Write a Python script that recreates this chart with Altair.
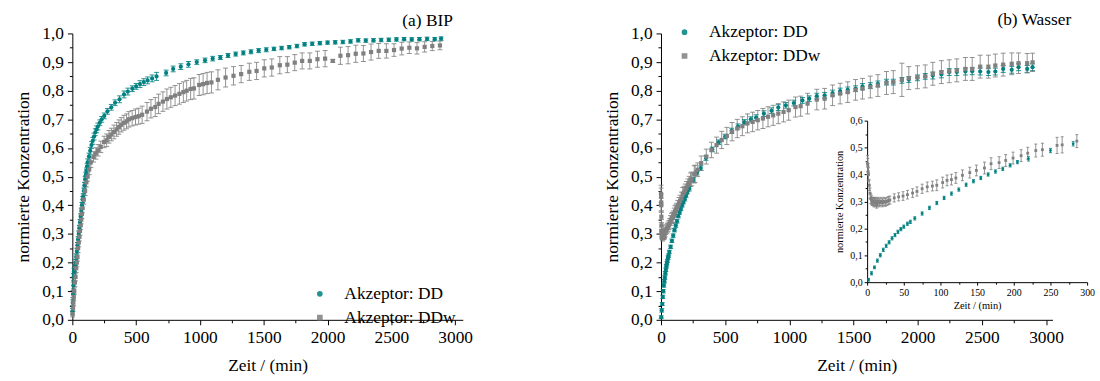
import altair as alt
import pandas as pd

FONT = "Liberation Serif"
FS = 17.5
TEAL = "#008080"
GRAY = "#808080"
LBL_DD = "Akzeptor: DD"
LBL_DDW = "Akzeptor: DDw"

# ---------------- panel (a) BIP ----------------
a_dd_t = [1, 3, 5, 8, 10, 13, 16, 20, 25, 30,
          35, 40, 45, 50, 55, 60, 65, 70, 75, 80,
          85, 90, 95, 100, 105, 110, 115, 120, 130, 140,
          150, 160, 170, 180, 190, 200, 215, 230, 250, 275,
          305, 335, 370, 405, 435, 470, 500, 530, 560, 590,
          625, 660, 735, 790, 850, 910, 975, 1040, 1100, 1160,
          1220, 1280, 1340, 1400, 1460, 1520, 1580, 1640, 1700, 1760,
          1820, 1880, 1940, 2000, 2060, 2120, 2180, 2240, 2300, 2360,
          2420, 2480, 2540, 2600, 2660, 2720, 2780, 2840, 2890]
a_dd_v = [0.03, 0.06, 0.09, 0.12, 0.15, 0.17, 0.17, 0.19, 0.20, 0.22,
          0.24, 0.26, 0.28, 0.30, 0.32, 0.34, 0.36, 0.38, 0.40, 0.42,
          0.43, 0.45, 0.47, 0.49, 0.505, 0.52, 0.535, 0.55, 0.57, 0.59,
          0.61, 0.625, 0.64, 0.655, 0.665, 0.675, 0.688, 0.70, 0.712, 0.728,
          0.742, 0.758, 0.77, 0.787, 0.797, 0.807, 0.815, 0.823, 0.83, 0.836,
          0.843, 0.85, 0.862, 0.876, 0.884, 0.892, 0.90, 0.906, 0.912, 0.916,
          0.923, 0.928, 0.932, 0.936, 0.94, 0.943, 0.946, 0.949, 0.952, 0.956,
          0.962, 0.964, 0.966, 0.968, 0.969, 0.97, 0.972, 0.976, 0.975, 0.976,
          0.977, 0.978, 0.979, 0.98, 0.979, 0.98, 0.981, 0.98, 0.982]
a_dd_e = [0.01, 0.01, 0.012, 0.012, 0.012, 0.01, 0.01, 0.01, 0.01, 0.01,
          0.01, 0.01, 0.01, 0.01, 0.01, 0.01, 0.01, 0.01, 0.01, 0.01,
          0.01, 0.01, 0.01, 0.01, 0.01, 0.01, 0.01, 0.012, 0.012, 0.012,
          0.012, 0.012, 0.012, 0.012, 0.012, 0.012, 0.01, 0.01, 0.01, 0.01,
          0.01, 0.01, 0.012, 0.012, 0.012, 0.01, 0.01, 0.012, 0.012, 0.012,
          0.012, 0.014, 0.01, 0.01, 0.01, 0.01, 0.008, 0.008, 0.008, 0.007,
          0.007, 0.007, 0.007, 0.007, 0.007, 0.007, 0.006, 0.006, 0.006, 0.006,
          0.006, 0.006, 0.006, 0.006, 0.006, 0.006, 0.006, 0.006, 0.006, 0.006,
          0.006, 0.006, 0.006, 0.006, 0.006, 0.006, 0.006, 0.006, 0.006]

a_ddw_t = [2, 5, 8, 11, 15, 20, 25, 30, 35, 40,
           45, 50, 55, 60, 65, 70, 75, 80, 90, 100,
           110, 120, 132, 145, 166, 184, 202, 223, 249, 269,
           287, 306, 326, 347, 365, 383, 404, 425, 443, 469,
           495, 520, 547, 585, 616, 650, 676, 710, 741, 772,
           805, 839, 870, 896, 927, 953, 994, 1025, 1056, 1090,
           1141, 1201, 1263, 1323, 1387, 1444, 1504, 1563, 1626, 1685,
           1743, 1801, 1861, 1921, 1981, 2041, 2101, 2161, 2221, 2281,
           2341, 2401, 2461, 2521, 2581, 2641, 2701, 2761, 2821, 2881]
a_ddw_v = [0.02, 0.04, 0.06, 0.08, 0.10, 0.13, 0.15, 0.18, 0.20, 0.22,
           0.25, 0.27, 0.29, 0.31, 0.33, 0.35, 0.37, 0.39, 0.42, 0.45,
           0.48, 0.50, 0.525, 0.55, 0.569, 0.581, 0.592, 0.604, 0.621, 0.627,
           0.639, 0.647, 0.656, 0.665, 0.673, 0.681, 0.688, 0.693, 0.70, 0.704,
           0.708, 0.711, 0.716, 0.727, 0.737, 0.743, 0.754, 0.762, 0.771, 0.777,
           0.783, 0.789, 0.795, 0.80, 0.806, 0.808, 0.82, 0.823, 0.827, 0.829,
           0.838, 0.846, 0.852, 0.858, 0.866, 0.869, 0.878, 0.881, 0.889, 0.891,
           0.898, 0.904, 0.904, 0.91, 0.912, 0.904, 0.922, 0.924, 0.929, 0.93,
           0.935, 0.939, 0.939, 0.942, 0.947, 0.95, 0.948, 0.953, 0.956, 0.958]
a_ddw_e = [0.01, 0.01, 0.012, 0.012, 0.012, 0.014, 0.014, 0.015, 0.015, 0.015,
           0.015, 0.015, 0.015, 0.015, 0.015, 0.015, 0.016, 0.016, 0.016, 0.016,
           0.016, 0.016, 0.018, 0.018, 0.018, 0.02, 0.02, 0.02, 0.02, 0.022,
           0.022, 0.022, 0.024, 0.024, 0.025, 0.025, 0.026, 0.026, 0.027, 0.027,
           0.028, 0.028, 0.03, 0.032, 0.032, 0.033, 0.034, 0.034, 0.035, 0.035,
           0.035, 0.036, 0.036, 0.036, 0.037, 0.037, 0.037, 0.037, 0.037, 0.037,
           0.035, 0.033, 0.032, 0.03, 0.03, 0.03, 0.03, 0.03, 0.03, 0.028,
           0.028, 0.028, 0.028, 0.028, 0.028, 0.005, 0.03, 0.03, 0.03, 0.028,
           0.028, 0.026, 0.025, 0.022, 0.022, 0.02, 0.02, 0.018, 0.016, 0.015]

# ---------------- panel (b) Wasser: first 300 min (also the inset) ----------------
b_dd_t_early = [2, 6, 10, 14, 18, 22, 26, 30, 34, 38,
                42, 46, 50, 55, 59, 65, 75, 85, 95, 105,
                115, 125, 135, 145, 155, 165, 175, 185, 195, 205,
                220, 250, 281]
b_dd_v_early = [0.009, 0.033, 0.055, 0.08, 0.10, 0.12, 0.135, 0.148, 0.163, 0.175,
                0.187, 0.197, 0.206, 0.217, 0.224, 0.237, 0.255, 0.276, 0.294, 0.313,
                0.329, 0.344, 0.362, 0.375, 0.387, 0.40, 0.411, 0.421, 0.434, 0.446,
                0.458, 0.489, 0.514]
b_dd_e_early = [0.005, 0.006, 0.005, 0.006, 0.006, 0.006, 0.006, 0.006, 0.006, 0.006,
                0.006, 0.006, 0.006, 0.006, 0.006, 0.006, 0.006, 0.006, 0.006, 0.006,
                0.006, 0.006, 0.006, 0.006, 0.006, 0.006, 0.006, 0.006, 0.006, 0.006,
                0.008, 0.008, 0.008]

b_ddw_t_early = [0.5, 1, 1.5, 2, 3, 4, 5, 6, 7, 8,
                 9, 10, 11, 12, 13, 14, 15, 17, 19, 21,
                 23, 25, 27, 29, 31, 37, 43, 49, 55, 62,
                 68, 75, 82, 89, 95, 103, 109, 115, 121, 130,
                 140, 149, 160, 169, 180, 189, 199, 210, 219, 230,
                 239, 259, 266, 286]
b_ddw_v_early = [0.44, 0.43, 0.41, 0.40, 0.36, 0.33, 0.31, 0.305, 0.30, 0.30,
                 0.295, 0.30, 0.295, 0.30, 0.29, 0.295, 0.30, 0.295, 0.30, 0.295,
                 0.30, 0.297, 0.30, 0.303, 0.305, 0.313, 0.317, 0.32, 0.325, 0.331,
                 0.337, 0.347, 0.354, 0.357, 0.36, 0.37, 0.378, 0.381, 0.387, 0.397,
                 0.407, 0.415, 0.424, 0.44, 0.444, 0.452, 0.461, 0.47, 0.479, 0.489,
                 0.492, 0.508, 0.51, 0.524]
b_ddw_e_early = [0.03, 0.03, 0.03, 0.025, 0.02, 0.02, 0.018, 0.016, 0.015, 0.015,
                 0.015, 0.015, 0.015, 0.015, 0.015, 0.015, 0.015, 0.015, 0.015, 0.015,
                 0.015, 0.015, 0.015, 0.015, 0.015, 0.015, 0.015, 0.016, 0.016, 0.016,
                 0.017, 0.017, 0.018, 0.018, 0.02, 0.02, 0.02, 0.02, 0.02, 0.02,
                 0.02, 0.02, 0.022, 0.022, 0.022, 0.022, 0.022, 0.022, 0.022, 0.024,
                 0.024, 0.03, 0.03, 0.024]

# ---------------- panel (b) Wasser: later times ----------------
b_dd_t_late = [310, 350, 400, 450, 500, 550, 600, 650, 700, 741,
               802, 861, 914, 973, 1035, 1102, 1155, 1214, 1275, 1337,
               1396, 1455, 1516, 1570, 1631, 1690, 1757, 1810, 1877, 1931,
               1998, 2059, 2118, 2185, 2246, 2305, 2372, 2425, 2487, 2551,
               2605, 2666, 2733, 2786, 2853, 2895]
b_dd_v_late = [0.53, 0.565, 0.595, 0.62, 0.64, 0.66, 0.675, 0.69, 0.70, 0.706,
               0.72, 0.73, 0.741, 0.749, 0.757, 0.766, 0.772, 0.781, 0.784, 0.792,
               0.799, 0.803, 0.807, 0.815, 0.818, 0.824, 0.83, 0.83, 0.836, 0.839,
               0.845, 0.85, 0.853, 0.857, 0.865, 0.865, 0.867, 0.868, 0.867, 0.865,
               0.867, 0.876, 0.873, 0.882, 0.876, 0.882]
b_dd_e_late = [0.008, 0.008, 0.008, 0.008, 0.008, 0.009, 0.009, 0.009, 0.009, 0.01,
               0.01, 0.01, 0.01, 0.01, 0.01, 0.01, 0.01, 0.01, 0.01, 0.01,
               0.01, 0.01, 0.01, 0.01, 0.01, 0.01, 0.01, 0.01, 0.01, 0.01,
               0.01, 0.01, 0.012, 0.012, 0.012, 0.012, 0.012, 0.012, 0.012, 0.012,
               0.012, 0.012, 0.012, 0.012, 0.012, 0.012]

b_ddw_t_late = [313, 353, 393, 433, 473, 513, 554, 594, 634, 674,
                714, 754, 794, 834, 874, 914, 955, 995, 1048, 1088,
                1142, 1214, 1275, 1337, 1396, 1455, 1516, 1570, 1631, 1690,
                1757, 1810, 1877, 1931, 1998, 2059, 2118, 2185, 2246, 2305,
                2372, 2425, 2487, 2551, 2605, 2666, 2733, 2786, 2853, 2895]
b_ddw_v_late = [0.547, 0.57, 0.593, 0.61, 0.628, 0.642, 0.657, 0.668, 0.676, 0.686,
                0.691, 0.697, 0.703, 0.709, 0.714, 0.72, 0.726, 0.732, 0.743, 0.746,
                0.755, 0.769, 0.772, 0.784, 0.79, 0.795, 0.803, 0.807, 0.813, 0.818,
                0.827, 0.83, 0.838, 0.844, 0.847, 0.85, 0.859, 0.865, 0.868, 0.871,
                0.876, 0.876, 0.884, 0.884, 0.888, 0.891, 0.894, 0.896, 0.896, 0.899]
b_ddw_e_late = [0.025, 0.026, 0.027, 0.028, 0.03, 0.03, 0.032, 0.032, 0.033, 0.033,
                0.034, 0.034, 0.035, 0.035, 0.035, 0.035, 0.035, 0.035, 0.035, 0.035,
                0.036, 0.036, 0.036, 0.036, 0.036, 0.036, 0.036, 0.036, 0.038, 0.038,
                0.04, 0.04, 0.058, 0.04, 0.04, 0.04, 0.04, 0.04, 0.04, 0.04,
                0.04, 0.04, 0.04, 0.04, 0.04, 0.04, 0.038, 0.036, 0.034, 0.032]

# ---------------- axis tick values ----------------
x_ticks_main = [0, 250, 500, 750, 1000, 1250, 1500, 1750, 2000, 2250, 2500, 2750, 3000]
y_ticks_main = [0, 0.05, 0.1, 0.15, 0.2, 0.25, 0.3, 0.35, 0.4, 0.45, 0.5,
                0.55, 0.6, 0.65, 0.7, 0.75, 0.8, 0.85, 0.9, 0.95, 1.0]
x_ticks_inset = [0, 25, 50, 75, 100, 125, 150, 175, 200, 225, 250, 275, 300]
y_ticks_inset = [0, 0.05, 0.1, 0.15, 0.2, 0.25, 0.3, 0.35, 0.4, 0.45, 0.5, 0.55, 0.6]


def frame(t, v, e, label):
    return pd.DataFrame({
        "t": t, "v": v,
        "lo": [a - b for a, b in zip(v, e)],
        "hi": [a + b for a, b in zip(v, e)],
        "s": label,
    })


df_a = pd.concat([frame(a_dd_t, a_dd_v, a_dd_e, LBL_DD),
                  frame(a_ddw_t, a_ddw_v, a_ddw_e, LBL_DDW)], ignore_index=True)
df_b = pd.concat([frame(b_dd_t_early + b_dd_t_late, b_dd_v_early + b_dd_v_late,
                        b_dd_e_early + b_dd_e_late, LBL_DD),
                  frame(b_ddw_t_early + b_ddw_t_late, b_ddw_v_early + b_ddw_v_late,
                        b_ddw_e_early + b_ddw_e_late, LBL_DDW)], ignore_index=True)
df_inset = pd.concat([frame(b_dd_t_early, b_dd_v_early, b_dd_e_early, LBL_DD),
                      frame(b_ddw_t_early, b_ddw_v_early, b_ddw_e_early, LBL_DDW)],
                     ignore_index=True)

X_MAJOR_MAIN = "datum.value % 500 === 0"
Y_MAJOR = "abs(round(datum.value * 100)) % 10 === 0"
X_MAJOR_INSET = "datum.value % 50 === 0"
Y_LABEL = "replace(format(datum.value, '.1f'), '.', ',')"


def make_axis(title, values, major, label, tick_major, tick_minor, lsize, tsize,
              lpad, tpad, **kw):
    return alt.Axis(
        title=title, values=values,
        labelExpr=f"{major} ? {label} : ''",
        tickSize={"condition": {"test": major, "value": tick_major}, "value": tick_minor},
        labelFont=FONT, labelFontSize=lsize, titleFont=FONT, titleFontSize=tsize,
        titleFontWeight="normal", labelPadding=lpad, titlePadding=tpad,
        labelOverlap=False, labelFlush=False, grid=False,
        domainColor="black", tickColor="black", labelColor="black", titleColor="black",
        domainWidth=1, tickWidth=1, **kw)


def color_enc(leg):
    return alt.Color("s:N", scale=alt.Scale(domain=[LBL_DD, LBL_DDW], range=[TEAL, GRAY]),
                     legend=leg)


def shape_enc(leg):
    return alt.Shape("s:N", scale=alt.Scale(domain=[LBL_DD, LBL_DDW], range=["circle", "square"]),
                     legend=leg)


def series_layer(df, xs, ys, xaxis, yaxis, leg, cap, psize):
    base = alt.Chart(df)
    x = alt.X("t:Q", scale=xs, axis=xaxis)
    rule = base.mark_rule(strokeWidth=1, opacity=0.85).encode(
        x=x, y=alt.Y("lo:Q", scale=ys, axis=yaxis), y2="hi:Q", color=color_enc(leg))
    cap_lo = base.mark_tick(orient="horizontal", size=cap, thickness=1, opacity=0.85).encode(
        x=x, y=alt.Y("lo:Q", scale=ys, axis=yaxis), color=color_enc(leg))
    cap_hi = base.mark_tick(orient="horizontal", size=cap, thickness=1, opacity=0.85).encode(
        x=x, y=alt.Y("hi:Q", scale=ys, axis=yaxis), color=color_enc(leg))
    pts = base.mark_point(filled=True, size=psize, opacity=1, strokeWidth=0).encode(
        x=x, y=alt.Y("v:Q", scale=ys, axis=yaxis), color=color_enc(leg), shape=shape_enc(leg))
    return alt.layer(rule, cap_lo, cap_hi, pts)


def legend(lx, ly):
    return alt.Legend(title=None, orient="none", legendX=lx, legendY=ly,
                      labelFont=FONT, labelFontSize=FS, labelColor="black",
                      symbolSize=18, labelOffset=16, rowPadding=5, padding=0)


def main_axes():
    xa = make_axis("Zeit / (min)", x_ticks_main, X_MAJOR_MAIN, "format(datum.value, 'd')",
                   5, 3, FS, FS, 4, 11)
    ya = make_axis("normierte Konzentration", y_ticks_main, Y_MAJOR, Y_LABEL,
                   5, 3, FS, FS, 4, 9)
    return xa, ya


def panel_title(text, dx):
    return alt.TitleParams(text, anchor="end", frame="group", dx=dx, offset=-5,
                           font=FONT, fontSize=FS, fontWeight="normal", color="black")


# ---------------- left panel ----------------
xa, ya = main_axes()
left = series_layer(df_a, alt.Scale(domain=[0, 3060], nice=False, zero=False),
                    alt.Scale(domain=[0, 1], nice=False), xa, ya,
                    legend(241, 254), 5, 18).properties(
    width=394, height=289, title=panel_title("(a) BIP", -10))

# ---------------- right panel with inset ----------------
xb, yb = main_axes()
right_main = series_layer(df_b, alt.Scale(domain=[0, 3050], nice=False, zero=False),
                          alt.Scale(domain=[0, 1], nice=False), xb, yb,
                          legend(15, -10), 5, 18)
xi = make_axis("Zeit / (min)", x_ticks_inset, X_MAJOR_INSET, "format(datum.value, 'd')",
               3, 2, 10, 10.5, 2, 4, orient="bottom", offset=-38)
yi = make_axis("normierte Konzentration", y_ticks_inset, Y_MAJOR, Y_LABEL,
               3, 2, 10, 10.5, 2, 5, orient="left", offset=-208)
inset = series_layer(df_inset,
                     alt.Scale(domain=[0, 300], range=[208, 430], nice=False, zero=False),
                     alt.Scale(domain=[0, 0.6], range=[251, 88], nice=False),
                     xi, yi, legend(15, -10), 3, 8)
right = alt.layer(right_main, inset).resolve_scale(x="independent", y="independent").properties(
    width=395, height=289, title=panel_title("(b) Wasser", 19))

chart = alt.hconcat(left, right, spacing=132).resolve_scale(
    color="independent", shape="independent").properties(
    padding={"left": 15, "top": 9, "right": 5, "bottom": 5}
).configure_view(stroke=None)

chart.save("out.html", embed_options={"renderer": "svg", "actions": False})
